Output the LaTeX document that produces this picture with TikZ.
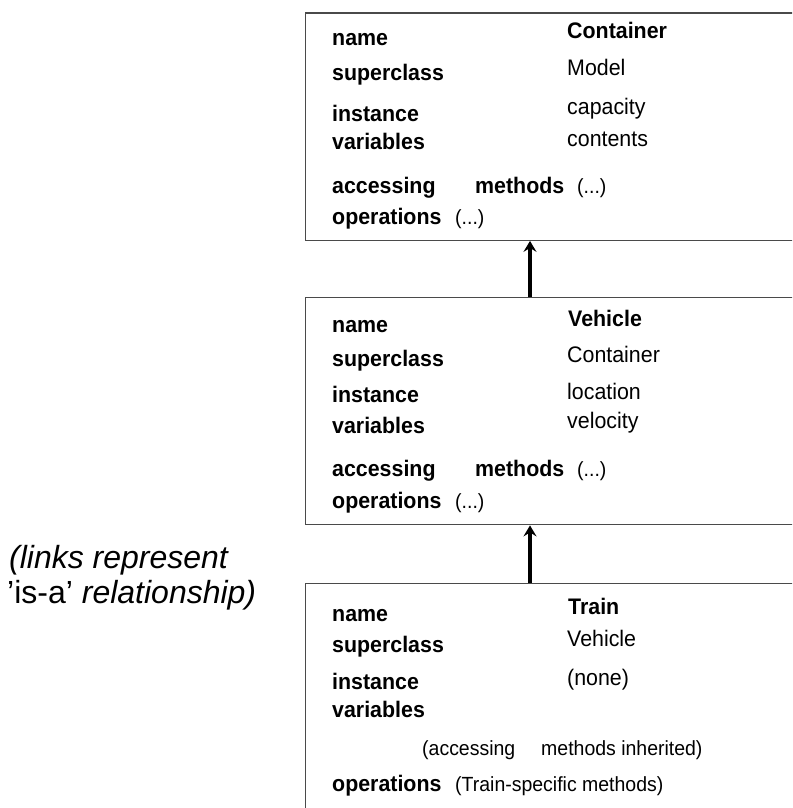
\documentclass[tikz,border=0pt]{standalone}
\usepackage{fontspec}
\setmainfont{Liberation Sans}
\newfontfamily\narrowsans[FakeStretch=0.95]{Liberation Sans}
\usetikzlibrary{arrows.meta}

\definecolor{boxgray}{HTML}{4A4A4A}

\tikzset{
  classbox/.style={draw=boxgray, line width=1.4pt, rectangle, inner sep=0pt,
    minimum width=496pt, minimum height=227pt, anchor=north west},
  lbl/.style={anchor=base west, inner sep=0pt,
    font=\narrowsans\fontsize{22.5}{25}\selectfont\bfseries},
  val/.style={anchor=base west, inner sep=0pt,
    font=\narrowsans\fontsize{22.5}{25}\selectfont},
  note/.style={anchor=base west, inner sep=0pt,
    font=\narrowsans\fontsize{20.5}{23}\selectfont},
  caption/.style={anchor=base west, inner sep=0pt,
    font=\fontsize{32}{35}\selectfont},
  isa/.style={draw=black, line width=3.2pt,
    -{Stealth[length=11pt, width=13pt, inset=4pt]}}
}

\begin{document}
\begin{tikzpicture}[x=1pt, y=-1pt]
  \useasboundingbox (0,0) rectangle (792,808);
  \clip (0,0) rectangle (792,808);

  % class boxes (they run off the right and bottom edges)
  \node[classbox] (c1) at (305,12.5) {};
  \node[classbox] (c2) at (305,297) {};
  \node[classbox] (c3) at (305,583) {};

  % Container
  \node[lbl] (c1name) at (332,46) {name};
  \node[lbl] (c1nameV) at (567,38) {Container};
  \node[lbl] (c1sup) at (332,80) {superclass};
  \node[val] (c1supV) at (567,75) {Model};
  \node[lbl] (c1inst) at (332,121) {instance};
  \node[val] (c1instV) at (567,114) {capacity};
  \node[lbl] (c1var) at (332,149) {variables};
  \node[val] (c1varV) at (567,146) {contents};
  \node[lbl] (c1acc) at (332,193) {accessing};
  \node[lbl] (c1meth) at (475,193) {methods};
  \node[note] (c1methV) at (577,193) {(...)};
  \node[lbl] (c1ops) at (332,224) {operations};
  \node[note] (c1opsV) at (455,224) {(...)};

  % Vehicle
  \node[lbl] (c2name) at (332,332) {name};
  \node[lbl] (c2nameV) at (568,326) {Vehicle};
  \node[lbl] (c2sup) at (332,366) {superclass};
  \node[val] (c2supV) at (567,362) {Container};
  \node[lbl] (c2inst) at (332,402) {instance};
  \node[val] (c2instV) at (567,399) {location};
  \node[lbl] (c2var) at (332,433) {variables};
  \node[val] (c2varV) at (567,428) {velocity};
  \node[lbl] (c2acc) at (332,476) {accessing};
  \node[lbl] (c2meth) at (475,476) {methods};
  \node[note] (c2methV) at (577,476) {(...)};
  \node[lbl] (c2ops) at (332,508) {operations};
  \node[note] (c2opsV) at (455,508) {(...)};

  % Train
  \node[lbl] (c3name) at (332,621) {name};
  \node[lbl] (c3nameV) at (568,614) {Train};
  \node[lbl] (c3sup) at (332,652) {superclass};
  \node[val] (c3supV) at (567,646) {Vehicle};
  \node[lbl] (c3inst) at (332,689) {instance};
  \node[val] (c3instV) at (567,685) {(none)};
  \node[lbl] (c3var) at (332,717) {variables};
  \node[note] (c3acc) at (422,755) {(accessing};
  \node[note] (c3meth) at (541,755) {methods inherited)};
  \node[lbl] (c3ops) at (332,791) {operations};
  \node[note] (c3opsV) at (455,791) {(Train-specific methods)};

  % is-a links
  \coordinate (ax) at (530,0);
  \draw[isa] (ax |- c2.north) -- (ax |- c1.south);
  \draw[isa] (ax |- c3.north) -- (ax |- c2.south);

  % caption
  \node[caption] (cap1) at (9,568) {\itshape (links represent};
  \node[caption] (cap2) at (7,603) {’is-a’ \itshape relationship)};
\end{tikzpicture}
\end{document}
